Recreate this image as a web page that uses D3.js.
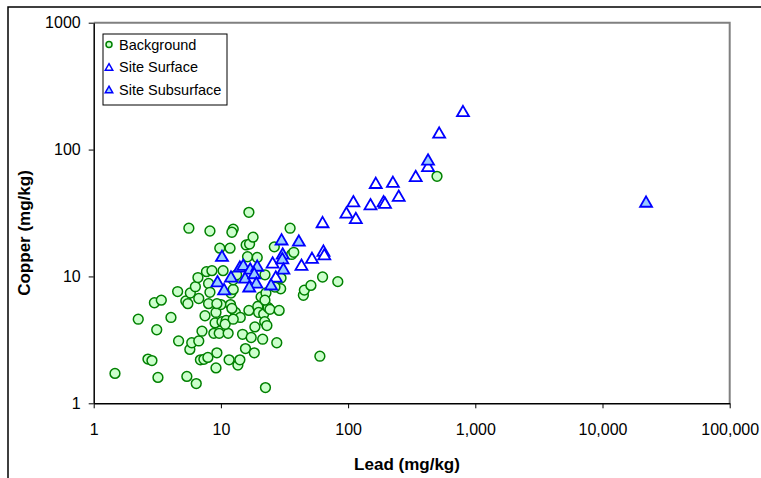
<!DOCTYPE html>
<html>
<head>
<meta charset="utf-8">
<script src="https://cdn.jsdelivr.net/npm/d3@7"></script>
<style>
body { margin: 0; background: #fff; }
text { font-family: "Liberation Sans", Arial, sans-serif; }
</style>
</head>
<body>
<div id="chart"></div>
<script>
// Background samples
var bgLead = [1.47,2.24,2.67,2.87,3.0,3.4,3.13,4.05,4.65,4.57,5.3,5.5,5.4,5.6,5.7,5.9,5.75,6.4,6.3,6.7,
    6.7,6.6,6.9,7.1,7.35,7.5,7.9,7.7,8.0,8.0,8.2,8.2,8.5,8.8,9.0,9.15,9.3,9.15,9.8,9.7,
    10,10.4,10.2,11,11.4,11.6,11.8,11.9,12,12.5,12.2,12.5,13,13.6,14.1,14.2,14.8,15.6,15.8,16.2,
    16.6,16.6,16.8,17.3,17.9,18.3,18.5,19.3,19.5,19.8,20.7,21.3,21.7,22.1,22.4,22.6,23,23.5,24.3,26.3,
    27.5,28.7,29.5,35,36,37.4,44.5,45.3,51,60,63,83,500,3.2,12.5,13.3,22.2,12.2,10.8,22.2,
    29.7,26.6,12.5,9.3];
var bgCopper = [1.72,4.6,2.23,2.17,6.2,6.5,3.8,4.75,3.1,7.6,6.4,6.1,1.63,24,2.66,3.0,7.4,1.43,8.3,3.1,
    6.7,9.8,2.2,3.7,2.22,4.9,2.3,10.9,6.1,8.8,22.8,7.5,11.1,3.56,4.3,5.2,2.5,1.9,16.7,3.56,
    6.0,11.1,4.4,4.5,3.56,2.2,16.7,6.0,7.4,23.6,22.3,7.9,5.2,2.0,2.2,4.75,3.5,2.7,17.7,14.3,
    5.4,32,18,3.3,20.4,2.5,4.0,14.1,5.8,5.2,6.9,3.2,5.05,4.4,1.33,7.4,4.1,5.7,5.5,17.1,
    3.0,5.4,8.0,24,14.9,15.5,7.1,7.8,8.5,2.35,9.9,9.1,61.5,1.6,9.4,10.3,10.3,5.6,4.2,6.5,
    9.7,8.25,4.6,6.1];

// Site surface samples
var surfLead = [800,520,425,340,165,225,250,190,195,150,110,97,115,63,64,65,52,43,25.5,27];
var surfCopper = [195,132,72,60,53,54,42,38,37,36,38,31,28,26,15.5,14.5,13.6,12,12.5,9.7];

// Site subsurface samples
var subLead = [425,22000,41,30,10.2,30.6,30.4,31,14.1,15,17,19.3,12,15.5,18.3,19,16.7,9.4,10.6,24.8];
var subCopper = [81,37.7,18.6,19,14.1,14.7,13.5,11.2,11.6,12,11.2,11.8,9.7,9.5,10.3,8.7,8.1,8.9,7.7,8.4];

var xTicks = [1,10,100,1000,10000,100000];
var yTicks = [1,10,100,1000];
var seriesNames = ["Background","Site Surface","Site Subsurface"];

// =====================
var margin = {top: 22.7, left: 93.7},
    width = 636,
    height = 380.6;

var svgRoot = d3.select("#chart")
    .append("svg")
    .attr("width", 761)
    .attr("height", 478);

// outer chart frame (only top and left visible)
svgRoot.append("path")
    .attr("d", "M8,478V7H761")
    .attr("fill", "none")
    .attr("stroke", "#000")
    .attr("stroke-width", 1.5);

var svg = svgRoot.append("g")
    .attr("transform", "translate(" + margin.left + "," + margin.top + ")");

var x = d3.scaleLog()
    .domain([1, 100000])
    .range([0, width]);

var y = d3.scaleLog()
    .domain([1, 1000])
    .range([height, 0]);

// plot area border, top and right in grey
svg.append("path")
    .attr("d", "M0,0H" + width + "V" + height)
    .attr("fill", "none")
    .attr("stroke", "#808080")
    .attr("stroke-width", 2);

var xAxis = svg.append("g")
    .attr("transform", "translate(0," + height + ")")
    .call(d3.axisBottom(x).tickValues(xTicks).tickFormat(d3.format(",")).tickSize(5).tickSizeOuter(0).tickPadding(15));

var yAxis = svg.append("g")
    .call(d3.axisLeft(y).tickValues(yTicks).tickFormat(d3.format("d")).tickSize(5).tickSizeOuter(0).tickPadding(8));

[xAxis, yAxis].forEach(function(a){
    a.selectAll("text").style("font-size", "16px").attr("fill", "#000");
    a.select(".domain").attr("stroke", "#000").attr("stroke-width", 1.5);
    a.selectAll(".tick line").attr("stroke", "#000");
});

svgRoot.append("text")
    .attr("text-anchor", "middle")
    .attr("x", 407)
    .attr("y", 470)
    .style("font-size", "17px")
    .style("font-weight", "bold")
    .text("Lead (mg/kg)");

svgRoot.append("text")
    .attr("text-anchor", "middle")
    .attr("transform", "translate(30,233) rotate(-90)")
    .style("font-size", "17px")
    .style("font-weight", "bold")
    .text("Copper (mg/kg)");

var tri = d3.symbol().type(d3.symbolTriangle).size(62);

// background circles
svg.append("g").selectAll("circle")
    .data(d3.zip(bgLead, bgCopper))
    .enter().append("circle")
    .attr("cx", d => x(d[0]))
    .attr("cy", d => y(d[1]))
    .attr("r", 4.9)
    .attr("fill", "#ccffcc")
    .attr("stroke", "#008000")
    .attr("stroke-width", 1.5);

svg.append("g").selectAll("path")
    .data(d3.zip(surfLead, surfCopper))
    .enter().append("path")
    .attr("d", tri)
    .attr("transform", d => "translate(" + x(d[0]) + "," + y(d[1]) + ")")
    .attr("fill", "#fff")
    .attr("stroke", "#0000ff")
    .attr("stroke-width", 1.8);

svg.append("g").selectAll("path")
    .data(d3.zip(subLead, subCopper))
    .enter().append("path")
    .attr("d", tri)
    .attr("transform", d => "translate(" + x(d[0]) + "," + y(d[1]) + ")")
    .attr("fill", "#99ccff")
    .attr("stroke", "#0000ff")
    .attr("stroke-width", 1.8);

// legend
var legend = svgRoot.append("g").attr("transform", "translate(103,34)");
legend.append("rect")
    .attr("width", 124)
    .attr("height", 71)
    .attr("fill", "#fff")
    .attr("stroke", "#000")
    .attr("stroke-width", 1);

var smallTri = d3.symbol().type(d3.symbolTriangle).size(24);
seriesNames.forEach(function(name, i){
    var cy = 10.5 + i * 22.5;
    if (i === 0) {
        legend.append("circle").attr("cx", 6).attr("cy", cy).attr("r", 3)
            .attr("fill", "#ccffcc").attr("stroke", "#008000").attr("stroke-width", 1.5);
    } else {
        legend.append("path").attr("d", smallTri)
            .attr("transform", "translate(6," + (cy + 1) + ")")
            .attr("fill", i === 1 ? "#fff" : "#99ccff")
            .attr("stroke", "#0000ff").attr("stroke-width", 1.5);
    }
    legend.append("text")
        .attr("x", 16)
        .attr("y", cy + 5)
        .style("font-size", "14.5px")
        .text(name);
});
</script>
</body>
</html>
